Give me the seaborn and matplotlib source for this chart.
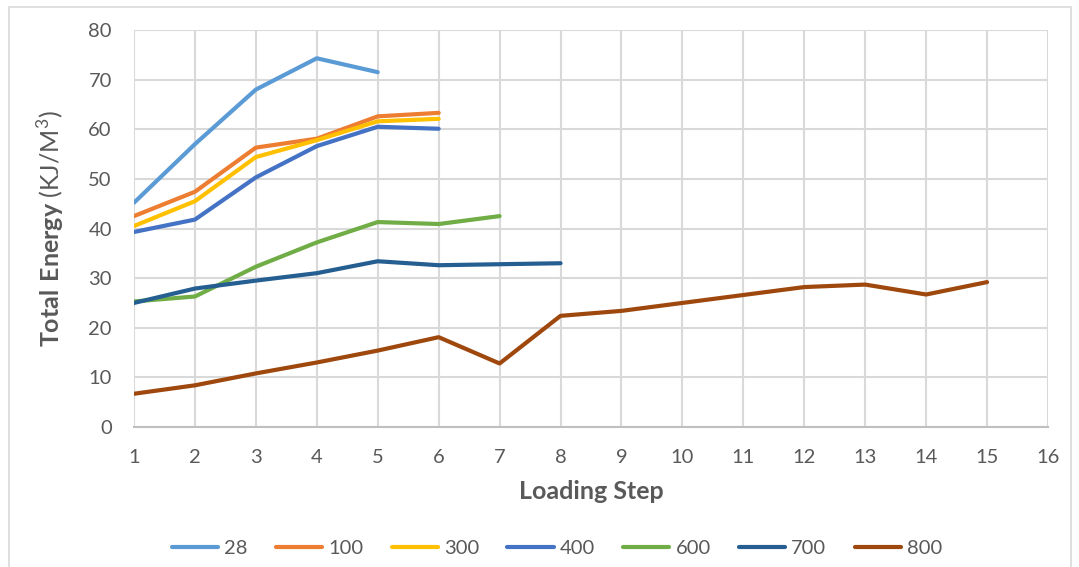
import matplotlib
matplotlib.use("Agg")
import matplotlib.pyplot as plt
import seaborn as sns
import pandas as pd
from matplotlib.patches import Rectangle

# Total energy per loading step for each series
steps_28 = [1, 2, 3, 4, 5]
energy_28 = [45.2, 57.0, 68.0, 74.3, 71.5]

steps_100 = [1, 2, 3, 4, 5, 6]
energy_100 = [42.5, 47.4, 56.3, 58.1, 62.6, 63.3]

steps_300 = [1, 2, 3, 4, 5, 6]
energy_300 = [40.5, 45.5, 54.4, 57.8, 61.6, 62.1]

steps_400 = [1, 2, 3, 4, 5, 6]
energy_400 = [39.3, 41.8, 50.3, 56.6, 60.5, 60.1]

steps_600 = [1, 2, 3, 4, 5, 6, 7]
energy_600 = [25.3, 26.3, 32.3, 37.2, 41.3, 40.9, 42.5]

steps_700 = [1, 2, 3, 4, 5, 6, 7, 8]
energy_700 = [25.0, 27.9, 29.5, 31.0, 33.4, 32.6, 32.8, 33.0]

steps_800 = list(range(1, 16))
energy_800 = [6.7, 8.4, 10.8, 13.0, 15.4, 18.1, 12.8, 22.4, 23.4, 25.0,
              26.6, 28.2, 28.7, 26.7, 29.2]

series_names = ["28", "100", "300", "400", "600", "700", "800"]
series_steps = [steps_28, steps_100, steps_300, steps_400, steps_600, steps_700, steps_800]
series_energy = [energy_28, energy_100, energy_300, energy_400, energy_600, energy_700, energy_800]
colors = ["#5B9BD5", "#ED7D31", "#FFC000", "#4472C4", "#70AD47", "#255E91", "#9E480E"]

x_ticks = list(range(1, 17))
y_ticks = list(range(0, 90, 10))

frames = []
for name, xs, ys in zip(series_names, series_steps, series_energy):
    frames.append(pd.DataFrame({"step": xs, "energy": ys, "series": name}))
df = pd.concat(frames, ignore_index=True)

sns.set_theme(style="white")
plt.rcParams["font.family"] = ["Lato", "DejaVu Sans"]
plt.rcParams["mathtext.fontset"] = "custom"
plt.rcParams["mathtext.rm"] = "Lato"
plt.rcParams["mathtext.bf"] = "Lato:bold"

fig = plt.figure(figsize=(10.79, 5.67), dpi=100)
ax = fig.add_axes([134 / 1079, 1 - 427 / 567, (1048 - 134) / 1079, (427 - 30) / 567])

sns.lineplot(data=df, x="step", y="energy", hue="series", hue_order=series_names,
             palette=colors, linewidth=3, ax=ax, legend=True, estimator=None, sort=False)

ax.set_xlim(1, 16)
ax.set_ylim(0, 80)
ax.set_xticks(x_ticks)
ax.set_yticks(y_ticks)
ax.grid(True, color="#D9D9D9", linewidth=1.5)
ax.set_axisbelow(True)
for side in ["top", "right", "left"]:
    ax.spines[side].set_visible(False)
ax.spines["bottom"].set_color("#BFBFBF")
ax.spines["bottom"].set_linewidth(1.5)
ax.tick_params(axis="both", length=0, labelsize=14.5, colors="#595959")
ax.tick_params(axis="x", pad=16)
ax.tick_params(axis="y", pad=16)

ax.set_xlabel("Loading Step", fontsize=18, fontweight="bold", color="#595959", labelpad=10)
ax.set_ylabel(r"$\mathbf{Total\ Energy}$ (KJ/M$^{3}$)", fontsize=18, color="#595959",
              labelpad=15)

handles, labels = ax.get_legend_handles_labels()
ax.legend(handles, labels, loc="center", bbox_to_anchor=(557 / 1079, 1 - 548 / 567),
          bbox_transform=fig.transFigure, ncol=7, frameon=False, fontsize=14.5,
          handlelength=2.3, columnspacing=1.4, handletextpad=0.3, labelcolor="#595959")

fig.patches.append(Rectangle((9 / 1079, -0.05), (1071 - 9) / 1079, 1.05 - 7 / 567,
                             transform=fig.transFigure, fill=False,
                             edgecolor="#D9D9D9", linewidth=1.2))

fig.savefig("out.png", dpi=100)
